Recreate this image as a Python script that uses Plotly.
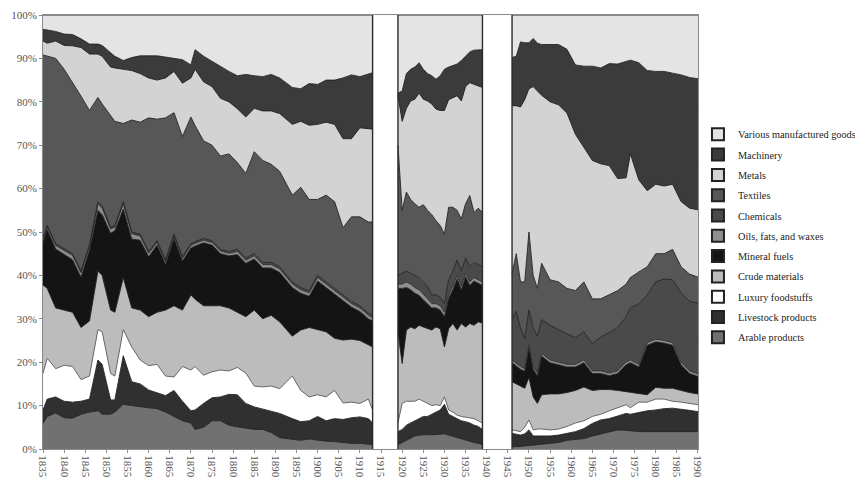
import plotly.graph_objects as go

# ---------------- categories (stacking order, bottom to top) ----------------
categories = ["Arable products", "Livestock products", "Luxury foodstuffs", "Crude materials",
              "Mineral fuels", "Oils, fats, and waxes", "Chemicals", "Textiles", "Metals",
              "Machinery", "Various manufactured goods"]
fill_colors = ["#717171", "#303030", "#ffffff", "#bcbcbc", "#141414", "#8e8e8e",
               "#4a4a4a", "#575757", "#d3d3d3", "#3b3b3b", "#e4e4e4"]
line_colors = ["#1e1e1e", "#1e1e1e", "#5a5a5a", "#1e1e1e", "#1e1e1e", "#2a2a2a",
               "#1e1e1e", "#1e1e1e", "#1e1e1e", "#1e1e1e", "#1e1e1e"]

# ---------------- period 1: 1835-1913 (percent shares) ----------------
years_1 = [1835, 1836, 1838, 1840, 1842, 1844, 1846, 1848, 1849, 1851,
           1852, 1854, 1856, 1858, 1860, 1862, 1864, 1866, 1868, 1870,
           1871, 1873, 1875, 1877, 1879, 1881, 1883, 1885, 1887, 1889,
           1891, 1894, 1896, 1898, 1900, 1902, 1904, 1906, 1908, 1910,
           1912, 1913]
arable_1 = [5.9, 7.5, 8.3, 7.2, 7.1, 8.0, 8.5, 8.8, 8.0, 8.0,
            8.5, 10.3, 10.0, 9.7, 9.5, 9.3, 8.5, 7.5, 6.5, 6.0,
            4.5, 5.0, 6.5, 6.5, 5.5, 5.1, 4.8, 4.5, 4.5, 3.8,
            2.6, 2.2, 2.0, 2.3, 2.0, 1.8, 1.7, 1.5, 1.3, 1.3,
            1.1, 1.0]
livestock_1 = [3.1, 4.0, 3.7, 3.8, 3.7, 3.0, 3.0, 11.7, 11.5, 3.3,
               2.8, 11.2, 5.5, 5.3, 4.1, 3.7, 3.8, 6.0, 4.5, 2.8,
               4.5, 5.5, 5.3, 5.5, 7.1, 7.4, 5.7, 5.2, 4.7, 5.0,
               5.6, 4.8, 4.3, 4.2, 5.5, 4.7, 5.3, 5.3, 5.9, 6.1,
               5.9, 5.0]
luxury_1 = [8.4, 9.4, 6.5, 8.3, 8.2, 5.0, 5.3, 7.0, 7.5, 6.1,
            5.5, 6.0, 8.0, 5.5, 5.6, 6.5, 4.5, 3.1, 8.0, 9.4,
            10.0, 6.5, 6.0, 6.2, 5.4, 6.3, 7.0, 4.8, 5.1, 5.7,
            5.7, 9.8, 7.2, 5.5, 5.0, 5.5, 6.5, 3.8, 3.6, 3.1,
            4.5, 3.0]
crude_1 = [20.4, 16.1, 14.0, 12.7, 12.5, 12.0, 12.7, 13.5, 13.0, 14.6,
           14.7, 12.0, 9.0, 11.5, 11.3, 12.0, 15.2, 16.4, 13.0, 17.3,
           15.5, 16.0, 15.2, 14.8, 14.5, 12.7, 13.0, 17.5, 15.7, 16.3,
           15.4, 9.2, 13.9, 16.0, 15.0, 15.0, 12.0, 14.5, 14.5, 14.5,
           12.5, 14.5]
mineral_1 = [10.0, 13.5, 13.6, 12.8, 12.1, 11.6, 16.3, 14.0, 14.0, 17.7,
             18.8, 15.8, 15.9, 16.1, 13.8, 15.5, 10.5, 15.5, 11.3, 10.8,
             12.3, 14.5, 14.0, 12.0, 12.0, 13.3, 12.3, 11.8, 11.7, 10.9,
             11.4, 11.2, 8.5, 7.2, 11.2, 10.2, 10.2, 9.1, 7.4, 6.7,
             6.0, 6.0]
oils_1 = [0.6, 0.6, 0.8, 1.0, 1.0, 1.0, 0.8, 1.5, 1.5, 1.0,
          0.8, 1.2, 1.2, 1.0, 0.8, 0.6, 0.6, 0.6, 0.6, 0.6,
          0.6, 0.6, 0.6, 0.6, 0.6, 0.7, 0.7, 0.7, 0.8, 0.8,
          0.8, 0.8, 0.8, 0.8, 0.8, 0.8, 0.8, 0.8, 0.8, 0.8,
          0.8, 0.8]
chemicals_1 = [0.4, 0.4, 0.4, 0.4, 0.4, 0.4, 0.4, 0.5, 0.5, 0.4,
               0.4, 0.5, 0.4, 0.4, 0.4, 0.4, 0.4, 0.4, 0.4, 0.4,
               0.4, 0.4, 0.4, 0.4, 0.4, 0.5, 0.5, 0.5, 0.5, 0.5,
               0.5, 0.5, 0.5, 0.5, 0.5, 0.5, 0.5, 0.5, 0.5, 0.5,
               0.5, 0.5]
textiles_1 = [42.0, 39.0, 42.7, 41.3, 39.5, 40.3, 31.0, 24.0, 23.5, 25.9,
              24.0, 18.0, 25.8, 25.8, 30.8, 28.0, 32.8, 28.0, 27.7, 29.2,
              26.7, 22.5, 22.0, 21.5, 22.5, 20.0, 19.5, 23.5, 23.5, 22.6,
              22.0, 20.0, 23.1, 21.0, 17.5, 20.0, 20.0, 15.5, 19.5, 20.5,
              21.0, 21.5]
metals_1 = [3.2, 3.0, 4.0, 5.5, 8.4, 11.2, 13.0, 10.0, 11.0, 11.0,
            12.3, 12.5, 11.4, 11.2, 9.2, 9.0, 9.2, 9.5, 12.3, 9.0,
            13.0, 13.6, 13.5, 13.3, 12.0, 12.4, 13.0, 10.0, 11.4, 12.3,
            13.3, 16.3, 15.2, 17.1, 17.3, 16.8, 17.8, 20.5, 18.0, 20.5,
            21.5, 21.4]
machinery_1 = [2.7, 3.0, 2.2, 2.6, 2.6, 2.0, 2.3, 2.3, 2.5, 3.3,
               2.7, 2.0, 3.0, 4.1, 5.1, 5.6, 4.8, 3.0, 5.4, 3.0,
               4.5, 5.9, 5.8, 7.2, 7.0, 7.6, 9.8, 7.5, 7.9, 8.4,
               8.2, 8.5, 7.5, 9.6, 9.2, 9.7, 10.2, 14.0, 14.7, 11.8,
               12.7, 13.0]
various_1 = [3.3, 3.5, 3.8, 4.4, 4.5, 5.5, 6.7, 6.7, 7.0, 8.7,
             9.5, 10.5, 9.8, 9.4, 9.4, 9.4, 9.7, 10.0, 10.3, 11.5,
             8.0, 9.5, 10.7, 12.0, 13.0, 14.0, 13.7, 14.0, 14.2, 13.7,
             14.5, 16.7, 17.0, 15.8, 16.0, 15.0, 15.0, 14.5, 13.8, 14.2,
             13.5, 13.3]

# ---------------- period 2: 1919-1939 ----------------
years_2 = [1919, 1920, 1921, 1922, 1923, 1924, 1925, 1926, 1927, 1928,
           1929, 1930, 1931, 1932, 1933, 1934, 1935, 1936, 1937, 1938, 1939]
arable_2 = [1.0, 1.5, 2.0, 2.5, 3.0, 3.2, 3.3, 3.3, 3.3, 3.3,
            3.4, 3.5, 3.2, 3.0, 2.6, 2.3, 2.0, 1.8, 1.5, 1.3, 1.0]
livestock_2 = [3.0, 3.0, 3.5, 3.5, 3.5, 3.8, 4.2, 4.2, 4.7, 5.2,
               5.6, 6.8, 4.8, 4.5, 4.4, 4.2, 4.3, 4.2, 4.0, 3.9, 3.5]
luxury_2 = [2.0, 6.0, 5.5, 5.0, 4.5, 4.5, 3.5, 3.0, 2.0, 1.7,
            1.0, 1.7, 1.0, 1.0, 0.8, 1.0, 1.0, 1.2, 1.5, 1.3, 1.5]
crude_2 = [21.0, 9.2, 16.4, 17.1, 16.7, 17.0, 17.1, 17.2, 17.4, 17.9,
           17.7, 11.5, 18.7, 20.4, 19.6, 21.4, 20.8, 21.7, 21.5, 22.8, 23.0]
mineral_2 = [10.0, 17.3, 9.8, 8.6, 8.2, 6.9, 6.3, 5.7, 5.1, 4.4,
             4.3, 7.0, 7.0, 7.8, 11.8, 7.8, 11.6, 8.8, 10.2, 8.9, 8.7]
oils_2 = [1.0, 1.0, 1.3, 1.3, 1.3, 1.3, 1.3, 1.3, 1.0, 1.0,
          1.0, 1.0, 0.8, 0.8, 0.8, 0.8, 0.8, 0.8, 0.8, 0.8, 0.8]
chemicals_2 = [2.0, 2.5, 2.5, 2.5, 2.8, 2.8, 2.8, 2.8, 2.0, 2.0,
               2.0, 2.0, 3.5, 3.5, 3.5, 3.5, 3.5, 3.5, 3.5, 3.5, 3.5]
textiles_2 = [30.0, 14.5, 18.2, 17.0, 16.5, 16.2, 17.8, 17.5, 18.5, 17.1,
              16.5, 16.0, 16.7, 14.7, 11.5, 12.0, 12.5, 16.4, 11.5, 13.0, 12.5]
metals_2 = [11.5, 20.5, 19.3, 22.7, 24.1, 26.3, 24.3, 25.2, 25.5, 25.7,
            26.5, 28.5, 24.8, 25.3, 26.4, 27.2, 27.0, 26.0, 29.5, 28.2, 28.8]
machinery_2 = [0.5, 7.0, 8.0, 7.3, 7.4, 7.0, 6.9, 6.3, 6.5, 6.9,
               8.0, 9.5, 7.5, 7.3, 7.3, 9.3, 7.0, 7.1, 7.9, 8.3, 8.7]
various_2 = [18.0, 17.5, 13.5, 12.5, 12.0, 11.0, 12.5, 13.5, 14.0, 14.8,
             14.0, 12.5, 12.0, 11.7, 11.3, 10.5, 9.5, 8.5, 8.1, 8.0, 8.0]

# ---------------- period 3: 1946-1990 ----------------
years_3 = [1946, 1947, 1948, 1949, 1950, 1951, 1952, 1953, 1955, 1957,
           1959, 1961, 1963, 1965, 1967, 1969, 1971, 1973, 1974, 1976,
           1978, 1980, 1982, 1984, 1986, 1988, 1990]
arable_3 = [0.5, 0.5, 0.6, 0.7, 0.8, 0.9, 1.0, 1.0, 1.2, 1.5,
            2.0, 2.2, 2.4, 3.0, 3.5, 4.0, 4.4, 4.3, 4.2, 4.0,
            4.0, 4.0, 4.0, 4.0, 4.0, 4.0, 4.0]
livestock_3 = [3.1, 2.9, 2.6, 2.8, 3.6, 2.1, 2.0, 2.0, 1.8, 1.7,
               1.6, 1.8, 2.3, 2.9, 3.2, 3.0, 3.2, 3.9, 3.8, 4.4,
               4.8, 5.0, 5.3, 5.4, 5.2, 4.9, 4.6]
luxury_3 = [0.8, 0.8, 0.8, 1.5, 2.3, 1.4, 1.6, 1.6, 1.4, 1.4,
            1.6, 2.0, 1.8, 1.6, 1.3, 1.8, 1.9, 2.0, 1.5, 2.4,
            2.0, 2.5, 2.2, 1.6, 1.6, 1.6, 1.6]
crude_3 = [11.1, 10.8, 10.5, 9.0, 9.8, 7.6, 5.9, 7.9, 8.3, 8.1,
           7.8, 7.5, 7.8, 6.0, 5.7, 4.9, 4.0, 3.0, 3.5, 1.9,
           1.7, 2.7, 2.5, 3.0, 2.7, 2.5, 2.5]
mineral_3 = [4.4, 4.1, 3.9, 3.9, 6.9, 6.4, 6.4, 8.9, 7.2, 6.7,
             5.9, 5.4, 5.6, 3.9, 3.7, 3.2, 3.9, 6.2, 6.9, 6.2,
             11.4, 10.5, 10.4, 9.9, 5.9, 4.4, 4.0]
oils_3 = [0.6, 0.6, 0.6, 0.6, 0.6, 0.6, 0.6, 0.6, 0.6, 0.6,
          0.6, 0.6, 0.6, 0.6, 0.6, 0.6, 0.6, 0.6, 0.6, 0.6,
          0.6, 0.6, 0.6, 0.6, 0.6, 0.6, 0.6]
chemicals_3 = [9.5, 12.0, 8.9, 7.0, 8.0, 9.0, 8.5, 7.8, 8.0, 7.5,
               7.0, 6.2, 6.5, 6.3, 7.8, 9.3, 10.0, 10.5, 12.0, 14.0,
               11.0, 13.2, 14.2, 14.5, 16.0, 16.0, 16.3]
textiles_3 = [10.4, 13.3, 10.6, 13.0, 18.0, 12.0, 11.0, 13.0, 10.5, 11.0,
              10.5, 10.8, 11.5, 10.3, 8.8, 8.7, 8.5, 7.5, 7.0, 7.3,
              6.5, 6.5, 5.8, 7.0, 6.0, 6.3, 6.0]
metals_3 = [38.7, 34.1, 40.3, 42.0, 33.0, 43.5, 45.5, 38.7, 41.0, 40.8,
            40.4, 36.0, 31.0, 31.9, 31.1, 29.8, 25.8, 24.5, 28.5, 21.2,
            17.5, 16.0, 15.6, 15.0, 15.0, 15.2, 15.5]
machinery_3 = [11.1, 11.4, 15.0, 13.1, 10.6, 11.1, 11.0, 11.7, 13.2, 13.9,
               14.7, 16.0, 18.7, 21.7, 22.1, 23.5, 26.4, 26.8, 21.6, 27.0,
               27.7, 26.0, 26.4, 25.6, 29.2, 30.1, 30.2]
various_3 = [9.8, 9.5, 6.2, 6.4, 6.4, 5.4, 6.5, 6.8, 6.8, 6.8,
             7.9, 11.5, 11.8, 11.8, 12.2, 11.2, 11.3, 10.7, 10.4, 11.0,
             12.8, 13.0, 13.0, 13.4, 13.8, 14.4, 14.7]

# ---------------- axis tick labels ----------------
tick_years = list(range(1835, 1991, 5))
tick_labels = [str(y) for y in tick_years]
pct_ticks = list(range(0, 101, 10))
pct_labels = [f"{v}%" for v in pct_ticks]

periods = [
    (years_1, [arable_1, livestock_1, luxury_1, crude_1, mineral_1, oils_1,
               chemicals_1, textiles_1, metals_1, machinery_1, various_1]),
    (years_2, [arable_2, livestock_2, luxury_2, crude_2, mineral_2, oils_2,
               chemicals_2, textiles_2, metals_2, machinery_2, various_2]),
    (years_3, [arable_3, livestock_3, luxury_3, crude_3, mineral_3, oils_3,
               chemicals_3, textiles_3, metals_3, machinery_3, various_3]),
]

FONT = "Liberation Serif, Times New Roman, serif"

fig = go.Figure()

# legend entries first (top entry = top of the stack), square swatches
for i in reversed(range(len(categories))):
    fig.add_trace(go.Scatter(
        x=[None], y=[None], mode="markers", name=categories[i],
        legendgroup=categories[i], showlegend=True,
        marker=dict(symbol="square", size=9, color=fill_colors[i],
                    line=dict(color="#222222", width=1)),
    ))

# stacked 100% areas, one stack per period
for p, (yrs, series) in enumerate(periods):
    for i, cat in enumerate(categories):
        fig.add_trace(go.Scatter(
            x=yrs, y=series[i], name=cat, legendgroup=cat, showlegend=False,
            stackgroup=f"period{p}", groupnorm="percent", mode="lines",
            line=dict(color=line_colors[i], width=0.9, shape="linear"),
            fillcolor=fill_colors[i],
            hovertemplate=cat + "<br>%{x}: %{y:.1f}%<extra></extra>",
        ))

# vertical borders of the war-time gaps
gap_edges = [years_1[-1], years_2[0], years_2[-1], years_3[0]]
for edge in gap_edges:
    fig.add_shape(type="line", xref="x", yref="paper", x0=edge, x1=edge, y0=0, y1=1,
                  line=dict(color="#2a2a2a", width=1.4), layer="above")

axis_font = dict(family=FONT, size=11, color="#555555")
fig.update_xaxes(range=[1835, 1990], tickmode="array", tickvals=tick_years, ticktext=tick_labels,
                 tickangle=90, tickfont=axis_font, showgrid=False, zeroline=False,
                 showline=True, linecolor="#8a8a8a", linewidth=1, mirror=True,
                 ticks="outside", ticklen=3, tickcolor="#8a8a8a", automargin=False)
fig.update_yaxes(range=[0, 100], tickmode="array", tickvals=pct_ticks, ticktext=pct_labels,
                 tickfont=axis_font, showgrid=False, zeroline=False,
                 showline=True, linecolor="#8a8a8a", linewidth=1, mirror=True,
                 ticks="outside", ticklen=3, tickcolor="#8a8a8a", automargin=False)

fig.update_layout(
    width=863, height=484,
    margin=dict(l=35, r=172, t=7, b=43),
    paper_bgcolor="white", plot_bgcolor="white",
    font=dict(family=FONT, size=11, color="#222222"),
    showlegend=True,
    legend=dict(xref="container", yref="container", x=0.7995, xanchor="left",
                y=0.769, yanchor="top",
                font=dict(family=FONT, size=10.3, color="#222222"),
                traceorder="grouped", tracegroupgap=1.3, itemsizing="constant",
                bgcolor="rgba(0,0,0,0)", borderwidth=0),
    template="none",
)

fig.write_html("out.html")
